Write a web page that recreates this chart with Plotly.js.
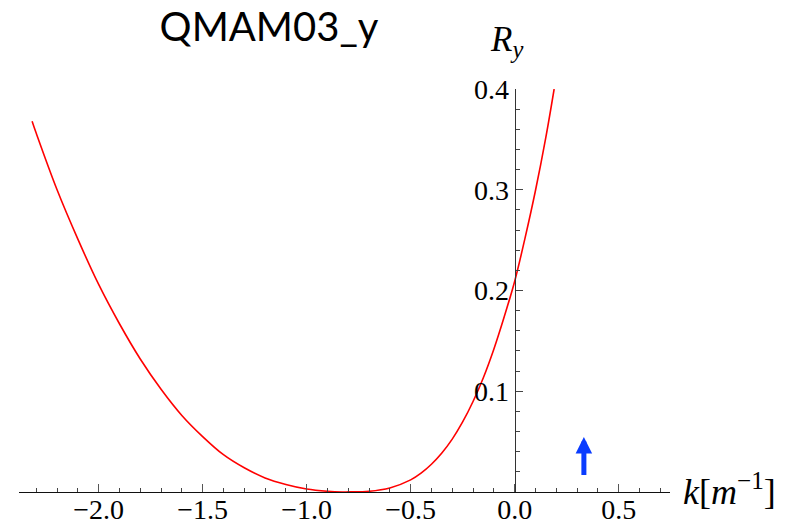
<!DOCTYPE html>
<html>
<head>
<meta charset="utf-8">
<script src="https://cdn.plot.ly/plotly-3.0.1.min.js"></script>
<style>html,body{margin:0;padding:0;background:#fff;}#chart{width:794px;height:523px;}</style>
</head>
<body>
<div id="chart"></div>
<script>
// data
const kValues = [-2.32, -2.3, -2.2, -2.1, -2.0, -1.9, -1.8, -1.7, -1.6, -1.5, -1.4, -1.3, -1.2, -1.1, -1.0, -0.9, -0.83, -0.8, -0.7, -0.6, -0.5, -0.45, -0.4, -0.35, -0.3, -0.25, -0.2, -0.15, -0.1, -0.05, 0.0, 0.05, 0.1, 0.15, 0.19];
const RyValues = [0.368, 0.356, 0.300, 0.251, 0.206, 0.167, 0.132, 0.102, 0.076, 0.055, 0.037, 0.024, 0.014, 0.0075, 0.003, 0.0007, 0.0, 0.0001, 0.0007, 0.004, 0.012, 0.0187, 0.0275, 0.0387, 0.0525, 0.0695, 0.0898, 0.1137, 0.1418, 0.174, 0.209, 0.252, 0.299, 0.352, 0.400];
const xTickVals = [-2.0, -1.5, -1.0, -0.5, 0.0, 0.5];
const yTickVals = [0.1, 0.2, 0.3, 0.4];
const arrowK = 0.333;
const arrowBottom = 0.0155;
const arrowTop = 0.0545;
const chartTitle = 'QMAM03_y';

const W = 794, H = 523;
const M = {l: 19, r: 124, t: 89, b: 31};
const pw = W - M.l - M.r, ph = H - M.t - M.b;
const xRange = [-2.383, 0.747];
const px = v => (v - M.l) / pw;
const py = v => (H - M.b - v) / ph;
const serif = 'Liberation Serif, Times New Roman, serif';

const trace = {
  x: kValues, y: RyValues, type: 'scatter', mode: 'lines',
  line: {color: '#ff0000', width: 1.6, shape: 'spline', smoothing: 1},
  hoverinfo: 'skip', showlegend: false, cliponaxis: false
};

const layout = {
  width: W, height: H,
  margin: M,
  paper_bgcolor: '#ffffff', plot_bgcolor: '#ffffff',
  showlegend: false,
  title: {text: chartTitle, font: {family: 'Lato, Open Sans, sans-serif', size: 40, color: '#000'},
          x: 269 / W, xanchor: 'center', xref: 'container', y: 1 - 27 / H, yanchor: 'middle', yref: 'container'},
  xaxis: {
    range: xRange, showgrid: false, zeroline: false,
    showline: true, linecolor: '#111', linewidth: 1.3,
    tickmode: 'array', tickvals: xTickVals, tickformat: '.1f',
    ticks: 'inside', ticklen: 8, tickwidth: 1, tickcolor: '#555',
    minor: {dtick: 0.1, tick0: 0, ticks: 'inside', ticklen: 4, tickwidth: 1, tickcolor: '#444'},
    tickfont: {family: serif, size: 28, color: '#000'},
    ticklabelstandoff: -8,
    fixedrange: true
  },
  yaxis: {
    range: [0, 0.4], showgrid: false, zeroline: false,
    anchor: 'free', position: (514.7 - M.l) / pw, side: 'left',
    showline: true, linecolor: '#333', linewidth: 1.2,
    tickmode: 'array', tickvals: yTickVals, tickformat: '.1f',
    ticks: 'inside', ticklen: 7, tickwidth: 1, tickcolor: '#444',
    minor: {dtick: 0.02, tick0: 0, ticks: 'inside', ticklen: 4, tickwidth: 1, tickcolor: '#444'},
    tickfont: {family: serif, size: 28, color: '#000'},
    fixedrange: true
  },
  annotations: [
    {text: '<i>R</i><sub><i>y</i></sub>', xref: 'paper', yref: 'paper', x: px(506), y: py(42),
     xanchor: 'center', yanchor: 'middle', showarrow: false, font: {family: serif, size: 35, color: '#000'}},
    {text: '<i>k</i>[<i>m</i><sup>−1</sup>]', xref: 'paper', yref: 'paper', x: px(681), y: py(489),
     xanchor: 'left', yanchor: 'middle', showarrow: false, font: {family: serif, size: 36, color: '#000'}},
    {text: '', x: arrowK, y: arrowTop, xref: 'x', yref: 'y', ax: arrowK, ay: arrowBottom, axref: 'x', ayref: 'y',
     showarrow: true, arrowhead: 2, arrowsize: 0.66, arrowwidth: 5, arrowcolor: '#0a3cff', standoff: 0, startstandoff: 0}
  ]
};

Plotly.newPlot('chart', [trace], layout, {staticPlot: true, displayModeBar: false});
</script>
</body>
</html>
